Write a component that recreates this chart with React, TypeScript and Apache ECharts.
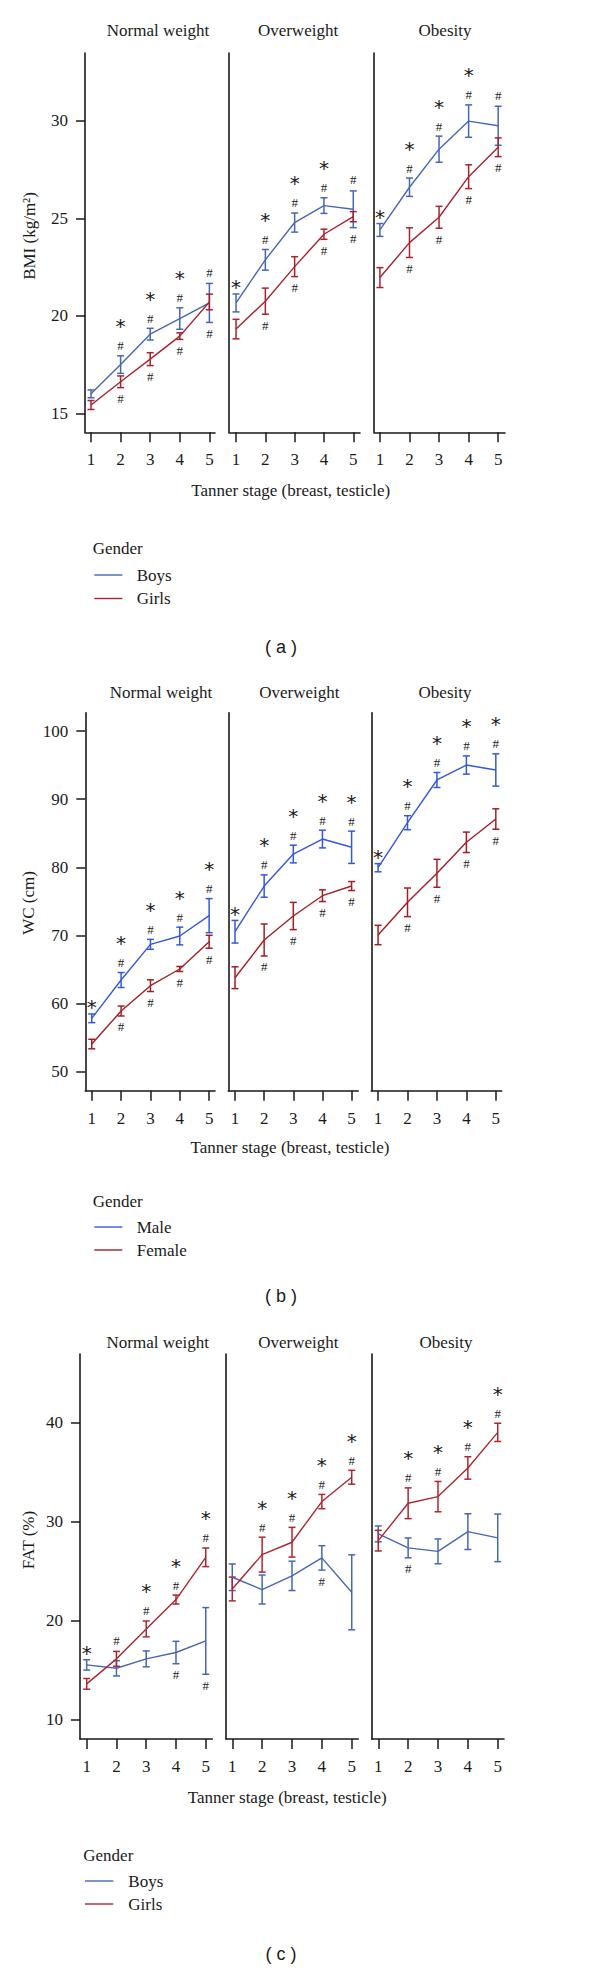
import React, { useEffect, useRef } from "react";
import * as echarts from "echarts";

// ---------- data ----------
const stages = [1, 2, 3, 4, 5];
const panelNames = ["Normal weight", "Overweight", "Obesity"];
const xTitleText = "Tanner stage (breast, testicle)";

// (a) BMI
const bmiLabel = "BMI (kg/m²)";
const bmiTicks = [15, 20, 25, 30];
const bmiLegend = ["Boys", "Girls"];
const bmiBoys = [
  [16.0, 17.5, 19.06, 19.86, 20.66],
  [20.66, 22.87, 24.78, 25.65, 25.46],
  [24.4, 26.59, 28.54, 29.98, 29.74],
];
const bmiBoysErr = [
  [0.2, 0.45, 0.3, 0.55, 1.0],
  [0.46, 0.53, 0.49, 0.4, 0.94],
  [0.33, 0.47, 0.67, 0.83, 1.0],
];
const bmiGirls = [
  [15.43, 16.62, 17.78, 18.96, 20.71],
  [19.32, 20.75, 22.52, 24.18, 25.08],
  [21.96, 23.75, 25.05, 27.13, 28.64],
];
const bmiGirlsErr = [
  [0.23, 0.3, 0.33, 0.17, 0.4],
  [0.5, 0.67, 0.51, 0.26, 0.26],
  [0.51, 0.76, 0.56, 0.61, 0.48],
];
const bmiTop = [
  ["", "*#", "*#", "*#", "#"],
  ["*", "*#", "*#", "*#", "#"],
  ["*", "*#", "*#", "*#", "#"],
];
const bmiBottom = [
  ["", "#", "#", "#", "#"],
  ["", "#", "#", "#", "#"],
  ["", "#", "#", "#", "#"],
];

// (b) WC
const wcLabel = "WC (cm)";
const wcTicks = [50, 60, 70, 80, 90, 100];
const wcLegend = ["Male", "Female"];
const wcMale = [
  [57.83, 63.45, 68.69, 69.91, 72.9],
  [70.54, 77.25, 81.95, 84.15, 82.94],
  [79.94, 86.55, 92.82, 95.02, 94.29],
];
const wcMaleErr = [
  [0.64, 1.1, 0.73, 1.3, 2.5],
  [1.66, 1.64, 1.3, 1.3, 2.37],
  [0.6, 1.03, 1.1, 1.34, 2.37],
];
const wcFemale = [
  [54.05, 58.9, 62.62, 65.07, 69.07],
  [63.79, 69.33, 72.85, 75.83, 77.25],
  [70.06, 74.86, 79.12, 83.67, 87.09],
];
const wcFemaleErr = [
  [0.7, 0.73, 0.86, 0.37, 0.95],
  [1.6, 2.35, 2.0, 0.86, 0.66],
  [1.42, 2.1, 2.05, 1.5, 1.5],
];
const wcTop = [
  ["*", "*#", "*#", "*#", "*#"],
  ["*", "*#", "*#", "*#", "*#"],
  ["*", "*#", "*#", "*#", "*#"],
];
const wcBottom = [
  ["", "#", "#", "#", "#"],
  ["", "#", "#", "#", "#"],
  ["", "#", "#", "#", "#"],
];

// (c) FAT
const fatLabel = "FAT (%)";
const fatTicks = [10, 20, 30, 40];
const fatLegend = ["Boys", "Girls"];
const fatBoys = [
  [15.55, 15.21, 16.16, 16.8, 17.97],
  [24.39, 23.15, 24.53, 26.34, 22.87],
  [28.76, 27.35, 27.0, 28.99, 28.36],
];
const fatBoysErr = [
  [0.52, 0.77, 0.8, 1.13, 3.36],
  [1.34, 1.46, 1.48, 1.23, 3.78],
  [0.8, 1.0, 1.25, 1.8, 2.4],
];
const fatGirls = [
  [13.64, 16.16, 19.18, 22.14, 26.4],
  [23.21, 26.67, 27.92, 32.02, 34.47],
  [28.08, 31.85, 32.52, 35.41, 39.0],
];
const fatGirlsErr = [
  [0.54, 0.75, 0.8, 0.45, 0.94],
  [1.2, 1.76, 1.5, 0.72, 0.7],
  [1.04, 1.55, 1.53, 1.13, 0.92],
];
const fatTop = [
  ["*", "#", "*#", "*#", "*#"],
  ["", "*#", "*#", "*#", "*#"],
  ["", "*#", "*#", "*#", "*#"],
];
const fatBottom = [
  ["", "", "", "#", "#"],
  ["", "", "", "#", ""],
  ["", "#", "", "", ""],
];

// ---------- layout / style ----------
const SERIF = '"Liberation Serif", "Times New Roman", serif';
const SANS = '"Liberation Sans", Arial, sans-serif';
const STAR_FONT = '"DejaVu Sans", sans-serif';
const INK = "#1a1a1a";
const STAR_SIZE = 20;
const HASH_SIZE = 13;

const figs = [
  {
    a: bmiBoys, aErr: bmiBoysErr, b: bmiGirls, bErr: bmiGirlsErr, tops: bmiTop, bottoms: bmiBottom,
    yTicks: bmiTicks, legend: bmiLegend, yLabel: bmiLabel, figLabel: "( a )",
    colors: ["#4767B5", "#A8232E"], yMin: 14.03, yMax: 33.47, top: 53, height: 379.3,
    lefts: [85, 229, 374], widths: [130, 131, 131], xMin: [0.797, 0.76, 0.8], xMax: [5.19, 5.23, 5.23],
    titleY: 30, titleX: [158, 298, 445], yTitleX: 29, yTitleY: 236, xTitleX: 290.7, xTitleY: 490,
    legX: 92.7, legLine: [94.3, 122.3], legTextX: 136.7, legY: [548.3, 575, 598.5], figLabelY: 646.7,
  },
  {
    a: wcMale, aErr: wcMaleErr, b: wcFemale, bErr: wcFemaleErr, tops: wcTop, bottoms: wcBottom,
    yTicks: wcTicks, legend: wcLegend, yLabel: wcLabel, figLabel: "( b )",
    colors: ["#3457E0", "#A31E24"], yMin: 47.2, yMax: 102.7, top: 712.7, height: 378,
    lefts: [85.3, 228.3, 371.3], widths: [129.7, 130, 130.4], xMin: [0.78, 0.77, 0.77], xMax: [5.2, 5.23, 5.2],
    titleY: 692.7, titleX: [161, 299.3, 445], yTitleX: 28, yTitleY: 903, xTitleX: 290, xTitleY: 1147.3,
    legX: 92.7, legLine: [94.3, 122.3], legTextX: 136.7, legY: [1201.7, 1227, 1250], figLabelY: 1296,
  },
  {
    a: fatBoys, aErr: fatBoysErr, b: fatGirls, bErr: fatGirlsErr, tops: fatTop, bottoms: fatBottom,
    yTicks: fatTicks, legend: fatLegend, yLabel: fatLabel, figLabel: "( c )",
    colors: ["#4767B5", "#AD2630"], yMin: 8.08, yMax: 46.9, top: 1354, height: 385,
    lefts: [80, 226, 371.7], widths: [132.3, 132.3, 132.3], xMin: [0.775, 0.79, 0.78], xMax: [5.22, 5.22, 5.21],
    titleY: 1342.7, titleX: [157.7, 298.3, 446], yTitleX: 28, yTitleY: 1540, xTitleX: 287.3, xTitleY: 1797.7,
    legX: 83.3, legLine: [85, 113.3], legTextX: 128.3, legY: [1855, 1881, 1904], figLabelY: 1954.3,
  },
];

function txt(text: string, x: number, y: number, extra: any = {}) {
  const size = extra.size || 17;
  const family = extra.family || SERIF;
  return {
    type: "text",
    x,
    y,
    rotation: extra.rotation || 0,
    silent: true,
    style: {
      text,
      fill: extra.fill || INK,
      font: `${size}px ${family}`,
      fontSize: size,
      fontFamily: family,
      align: extra.align || "center",
      verticalAlign: "middle",
      textAlign: extra.align || "center",
      textVerticalAlign: "middle",
    },
  };
}

function errRender(color: string) {
  return (params: any, api: any) => {
    const x = api.value(0);
    const lo = api.coord([x, api.value(1)]);
    const hi = api.coord([x, api.value(2)]);
    const w = 3.5;
    const style = { stroke: color, lineWidth: 1.5, fill: "none" };
    return {
      type: "group",
      children: [
        { type: "line", shape: { x1: lo[0], y1: lo[1], x2: hi[0], y2: hi[1] }, style },
        { type: "line", shape: { x1: lo[0] - w, y1: lo[1], x2: lo[0] + w, y2: lo[1] }, style },
        { type: "line", shape: { x1: hi[0] - w, y1: hi[1], x2: hi[0] + w, y2: hi[1] }, style },
      ],
    };
  };
}

function markRender(tops: string[], bottoms: string[]) {
  const hash = (x: number, y: number) => txt("#", x, y, { size: HASH_SIZE });
  // y is the middle of the star's text box (glyph sits ~0.21em higher)
  const star = (x: number, y: number) => txt("*", x, y, { size: STAR_SIZE, family: STAR_FONT });
  return (params: any, api: any) => {
    const i = params.dataIndex;
    const x = api.value(0);
    const pt = api.coord([x, api.value(1)]);
    const pb = api.coord([x, api.value(2)]);
    const children: any[] = [];
    const t = tops[i];
    if (t === "*") children.push(star(pt[0], pt[1] - 11 + STAR_SIZE * 0.21));
    if (t === "#") children.push(hash(pt[0], pt[1] - 11));
    if (t === "*#") {
      children.push(hash(pt[0], pt[1] - 10));
      children.push(star(pt[0], pt[1] - 29.5));
    }
    if (bottoms[i] === "#") children.push(hash(pb[0], pb[1] + 11));
    return { type: "group", children };
  };
}

function buildOption() {
  const grid: any[] = [];
  const xAxis: any[] = [];
  const yAxis: any[] = [];
  const series: any[] = [];
  const graphic: any[] = [];
  const axisLine = { show: true, onZero: false, lineStyle: { color: INK, width: 1.6 } };

  figs.forEach((f) => {
    for (let p = 0; p < 3; p++) {
      const gi = grid.length;
      grid.push({ left: f.lefts[p], top: f.top, width: f.widths[p], height: f.height, containLabel: false });
      xAxis.push({
        type: "value", gridIndex: gi, min: f.xMin[p], max: f.xMax[p],
        axisLine,
        axisTick: { show: true, length: 10, customValues: stages, lineStyle: { color: INK, width: 1.5 } },
        axisLabel: { show: true, customValues: stages, margin: 19, fontSize: 17, fontFamily: SERIF, color: INK },
        splitLine: { show: false },
      });
      yAxis.push({
        type: "value", gridIndex: gi, min: f.yMin, max: f.yMax,
        axisLine,
        axisTick: { show: p === 0, length: 9, customValues: f.yTicks, lineStyle: { color: INK, width: 1.5 } },
        axisLabel: { show: p === 0, customValues: f.yTicks, margin: 17, fontSize: 17, fontFamily: SERIF, color: INK },
        splitLine: { show: false },
      });
      const groups = [
        { v: f.a[p], e: f.aErr[p], c: f.colors[0], n: f.legend[0] },
        { v: f.b[p], e: f.bErr[p], c: f.colors[1], n: f.legend[1] },
      ];
      groups.forEach((g) => {
        series.push({
          type: "line", name: g.n, xAxisIndex: gi, yAxisIndex: gi, symbol: "none",
          lineStyle: { color: g.c, width: 1.4 }, itemStyle: { color: g.c },
          data: stages.map((s, i) => [s, g.v[i]]),
        });
        series.push({
          type: "custom", xAxisIndex: gi, yAxisIndex: gi, renderItem: errRender(g.c),
          encode: { x: 0, y: [1, 2] },
          data: stages.map((s, i) => [s, g.v[i] - g.e[i], g.v[i] + g.e[i]]),
        });
      });
      series.push({
        type: "custom", xAxisIndex: gi, yAxisIndex: gi, renderItem: markRender(f.tops[p], f.bottoms[p]),
        encode: { x: 0, y: [1, 2] }, z: 5,
        data: stages.map((s, i) => [
          s,
          Math.max(f.a[p][i] + f.aErr[p][i], f.b[p][i] + f.bErr[p][i]),
          Math.min(f.a[p][i] - f.aErr[p][i], f.b[p][i] - f.bErr[p][i]),
        ]),
      });
      graphic.push(txt(panelNames[p], f.titleX[p], f.titleY));
    }
    graphic.push(txt(f.yLabel, f.yTitleX, f.yTitleY, { rotation: Math.PI / 2 }));
    graphic.push(txt(xTitleText, f.xTitleX, f.xTitleY));
    graphic.push(txt("Gender", f.legX, f.legY[0], { align: "left" }));
    for (let k = 0; k < 2; k++) {
      graphic.push({
        type: "line", silent: true,
        shape: { x1: f.legLine[0], y1: f.legY[k + 1], x2: f.legLine[1], y2: f.legY[k + 1] },
        style: { stroke: f.colors[k], lineWidth: 1.4 },
      });
      graphic.push(txt(f.legend[k], f.legTextX, f.legY[k + 1], { align: "left" }));
    }
    graphic.push(txt(f.figLabel, 281, f.figLabelY, { size: 18, family: SANS }));
  });

  return { animation: false, backgroundColor: "#ffffff", grid, xAxis, yAxis, series, graphic };
}

export default function App() {
  const ref = useRef<HTMLDivElement>(null);
  useEffect(() => {
    document.body.style.margin = "0";
    const chart = echarts.init(ref.current as HTMLDivElement, null, { renderer: "svg" });
    chart.setOption(buildOption() as any);
    return () => chart.dispose();
  }, []);
  return <div ref={ref} style={{ width: 600, height: 1968 }} />;
}
